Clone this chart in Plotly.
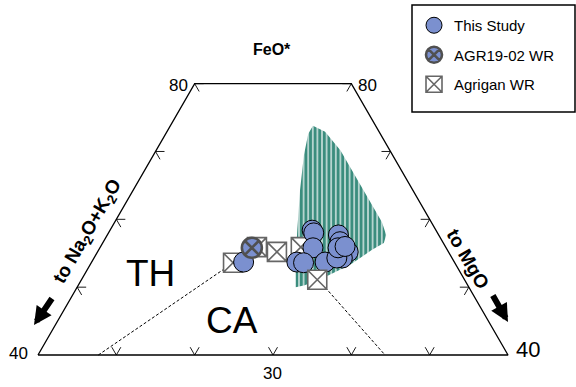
import math
import plotly.graph_objects as go

W, H = 576, 387
FONT = "Liberation Sans, Arial, sans-serif"

# ---------------- data (FeO*, Na2O+K2O, MgO; normalized wt%) ----------------
study_feo = [53.7, 58.4, 58.0, 55.8, 53.7, 53.6, 53.7, 57.7, 56.7, 55.2, 54.3, 54.3, 55.8, 56.0]
study_alk = [26.9, 15.8, 15.8, 17.0, 20.1, 19.3, 16.5, 12.8, 13.1, 12.8, 14.0, 14.7, 13.8, 12.8]
study_mgo = [19.4, 25.8, 26.2, 27.2, 26.2, 27.1, 29.8, 29.5, 30.2, 32.0, 31.7, 31.0, 30.4, 31.2]

agr_feo = [55.8]
agr_alk = [24.8]
agr_mgo = [19.4]

wr_feo = [53.6, 55.9, 55.2, 55.9, 51.1]
wr_alk = [28.3, 24.1, 21.9, 18.5, 18.8]
wr_mgo = [18.1, 20.0, 22.9, 25.6, 30.1]

# hatched field (outline)
field_feo = [73.8, 72.9, 70.2, 66.5, 62.8, 59.6, 57.7, 56.5, 55.5, 53.3, 51.5, 50.3, 50.0, 54.0, 58.4, 64.3, 69.5, 72.6, 73.8]
field_alk = [8.0, 6.9, 6.3, 6.3, 6.2, 6.3, 6.7, 7.6, 9.6, 13.5, 17.6, 20.8, 22.1, 20.1, 17.7, 14.4, 11.3, 9.2, 8.0]
field_mgo = [18.2, 20.2, 23.5, 27.2, 31.0, 34.1, 35.6, 35.9, 34.9, 33.2, 30.9, 28.9, 27.9, 25.9, 23.9, 21.3, 19.2, 18.2, 18.2]

# TH / CA boundary (two visible segments)
bnd1_feo = [40.0, 53.3]
bnd1_alk = [52.3, 28.8]
bnd1_mgo = [7.7, 17.9]
bnd2_feo = [50.5, 40.0]
bnd2_alk = [18.5, 15.7]
bnd2_mgo = [31.0, 44.3]

# frame: FeO* from 40 to 80
frame_feo = [40, 40, 80, 80, 40]
frame_alk = [60, 0, 0, 20, 60]
frame_mgo = [0, 60, 20, 0, 0]

side_ticks = [50, 60, 70, 80]        # FeO* ticks on the side edges
bottom_ticks = [10, 20, 30, 40, 50]  # MgO ticks on the bottom edge
TICK = 1.15

S3 = math.sqrt(3) / 2


def to_xy(feo, alk, mgo):
    xs, ys = [], []
    for f, a, m in zip(feo, alk, mgo):
        s = f + a + m
        f, m = 100 * f / s, 100 * m / s
        xs.append(m + f / 2)
        ys.append(f * S3)
    return xs, ys


# ticks
tx, ty = [], []
def seg(x, y, dx, dy):
    tx.extend([x, x + dx * TICK, None])
    ty.extend([y, y + dy * TICK, None])

for f in side_ticks:
    x, y = f / 2, f * S3            # left edge (MgO = 0)
    seg(x, y, 1, 0)
    seg(x, y, 0.5, -S3)
    x, y = 100 - f + f / 2, f * S3  # right edge (alk = 0)
    seg(x, y, -1, 0)
    seg(x, y, -0.5, -S3)
for m in bottom_ticks:
    x, y = m + 20, 40 * S3
    seg(x, y, -0.5, S3)
    seg(x, y, 0.5, S3)

BLUE = "#7b90cf"
TEAL = "#3b8d7e"

fig = go.Figure()

fx, fy = to_xy(field_feo, field_alk, field_mgo)
fig.add_trace(go.Scatter(x=fx, y=fy, mode="lines", fill="toself", line=dict(width=0, color=TEAL),
                         fillcolor="white",
                         fillpattern=dict(shape="|", fgcolor=TEAL, bgcolor="white", size=4.6,
                                          solidity=0.75, fgopacity=1),
                         showlegend=False, hoverinfo="skip"))

frx, fry = to_xy(frame_feo, frame_alk, frame_mgo)
fig.add_trace(go.Scatter(x=frx, y=fry, mode="lines", line=dict(color="black", width=1.3),
                         showlegend=False, hoverinfo="skip"))
fig.add_trace(go.Scatter(x=tx, y=ty, mode="lines", line=dict(color="black", width=0.9),
                         showlegend=False, hoverinfo="skip"))

for bf, ba, bm in [(bnd1_feo, bnd1_alk, bnd1_mgo), (bnd2_feo, bnd2_alk, bnd2_mgo)]:
    bx, by = to_xy(bf, ba, bm)
    fig.add_trace(go.Scatter(x=bx, y=by, mode="lines", line=dict(color="black", width=1, dash="3px,2px"),
                             showlegend=False, hoverinfo="skip"))

sx, sy = to_xy(study_feo, study_alk, study_mgo)
ax_, ay_ = to_xy(agr_feo, agr_alk, agr_mgo)
wx, wy = to_xy(wr_feo, wr_alk, wr_mgo)

fig.add_trace(go.Scatter(x=wx[:4], y=wy[:4], mode="markers", name="Agrigan WR", legendgroup="c", legendrank=3,
                         marker=dict(symbol="square-x", size=19, color="white",
                                     line=dict(color="#666666", width=1.6)), showlegend=False))
fig.add_trace(go.Scatter(x=sx, y=sy, mode="markers", name="This Study", legendgroup="a", legendrank=1,
                         marker=dict(symbol="circle", size=20, color=BLUE,
                                     line=dict(color="black", width=1))))
fig.add_trace(go.Scatter(x=ax_, y=ay_, mode="markers", name="AGR19-02 WR", legendgroup="b", legendrank=2,
                         marker=dict(symbol="circle-x", size=20, color=BLUE,
                                     line=dict(color="#505050", width=2.6))))
fig.add_trace(go.Scatter(x=wx[4:], y=wy[4:], mode="markers", name="Agrigan WR", legendgroup="c", legendrank=3,
                         marker=dict(symbol="square-x", size=19, color="white",
                                     line=dict(color="#666666", width=1.6))))

s = 470 / 60.0
x0 = 20 - 38 / s
x1 = x0 + W / s
y1 = 40 * S3 + 355 / s
y0 = y1 - H / s


def P(x, y):
    return x / W, 1 - y / H


annots = []
def txt(text, x, y, size, **kw):
    px, py = P(x, y)
    d = dict(text=text, x=px, y=py, xref="paper", yref="paper", showarrow=False,
             font=dict(family=FONT, size=size, color="black"), xanchor="center", yanchor="middle")
    d.update(kw)
    annots.append(d)

txt("<b>FeO*</b>", 272, 50, 16)
txt("80", 178, 85, 17)
txt("80", 367, 85, 17)
txt("40", 18, 353, 17)
txt("40", 528, 349, 22)
txt("30", 272, 373, 17)
txt("TH", 150, 273, 37)
txt("CA", 232, 320, 37)
txt("<b>to Na<sub>2</sub>O+K<sub>2</sub>O</b>", 88, 232, 19, textangle=-60)
txt("<b>to MgO</b>", 468, 258, 19, textangle=60)

for (hx, hy, tlx, tly) in [(34, 325, 53, 297), (508, 322, 492, 294)]:
    px, py = P(hx, hy)
    annots.append(dict(text="", x=px, y=py, xref="paper", yref="paper", showarrow=True,
                       ax=tlx - hx, ay=tly - hy, arrowhead=2, arrowsize=0.6, arrowwidth=6,
                       arrowcolor="black"))

lx0, ly0 = P(412, 5)
lx1, ly1 = P(575, 112)

fig.update_layout(
    width=W, height=H, margin=dict(l=0, r=0, t=0, b=0),
    paper_bgcolor="white", plot_bgcolor="white",
    xaxis=dict(range=[x0, x1], visible=False, fixedrange=True),
    yaxis=dict(range=[y0, y1], visible=False, fixedrange=True),
    annotations=annots,
    shapes=[dict(type="rect", xref="paper", yref="paper", x0=lx0, y0=ly1, x1=lx1, y1=ly0,
                 line=dict(color="black", width=1.5), fillcolor="rgba(0,0,0,0)")],
    legend=dict(x=lx0 + 2 / W, y=ly0 - 4 / H, xanchor="left", yanchor="top",
                bgcolor="rgba(0,0,0,0)", borderwidth=0, tracegroupgap=7,
                font=dict(family=FONT, size=15, color="black")),
    showlegend=True,
)

fig.write_html("out.html", config={"displayModeBar": False},
               post_script="document.body.style.margin='0px';")
